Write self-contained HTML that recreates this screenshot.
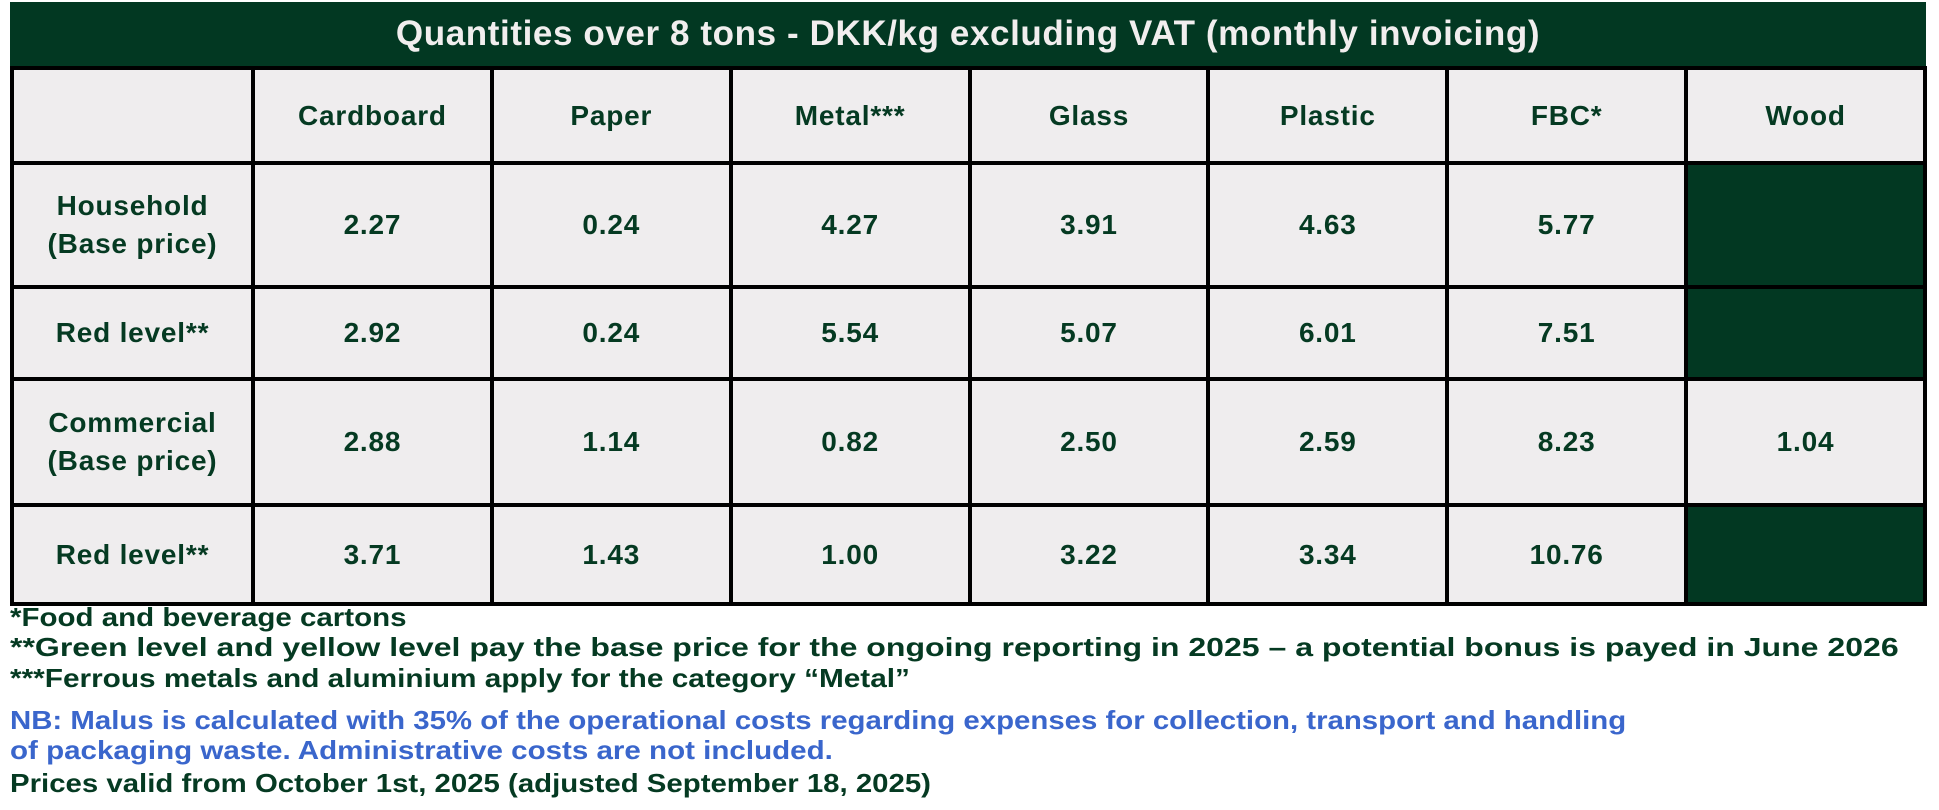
<!DOCTYPE html>
<html><head><meta charset="utf-8"><style>
body{margin:0;width:1939px;height:810px;background:#fff;position:relative;overflow:hidden;font-family:"Liberation Sans",sans-serif;}
.title{position:absolute;left:10px;top:2px;width:1916px;height:64px;background:#023822;color:#f1eeee;font-weight:bold;font-size:35px;letter-spacing:0.6px;text-align:center;line-height:64px;}
table{position:absolute;left:10px;top:66px;width:1917px;border-collapse:collapse;table-layout:fixed;}
td{border:4px solid #000;background:#efedee;color:#053a22;font-weight:bold;font-size:28px;letter-spacing:0.8px;text-align:center;line-height:1.35;padding:0;}
td.g{background:#023822;}
.f{position:absolute;left:10px;font-weight:bold;font-size:26px;color:#053a22;white-space:nowrap;transform-origin:0 0;}
.b{color:#3a66cc;}
</style></head><body>
<div class="title">Quantities over 8 tons - DKK/kg excluding VAT (monthly invoicing)</div>
<table>
<colgroup><col style="width:241px"><col><col><col><col><col><col><col></colgroup>
<tr style="height:95px"><td></td><td>Cardboard</td><td>Paper</td><td>Metal***</td><td>Glass</td><td>Plastic</td><td>FBC*</td><td>Wood</td></tr>
<tr style="height:124px"><td>Household<br>(Base price)</td><td>2.27</td><td>0.24</td><td>4.27</td><td>3.91</td><td>4.63</td><td>5.77</td><td class="g"></td></tr>
<tr style="height:92px"><td>Red level**</td><td>2.92</td><td>0.24</td><td>5.54</td><td>5.07</td><td>6.01</td><td>7.51</td><td class="g"></td></tr>
<tr style="height:126px"><td>Commercial<br>(Base price)</td><td>2.88</td><td>1.14</td><td>0.82</td><td>2.50</td><td>2.59</td><td>8.23</td><td>1.04</td></tr>
<tr style="height:99px"><td>Red level**</td><td>3.71</td><td>1.43</td><td>1.00</td><td>3.22</td><td>3.34</td><td>10.76</td><td class="g"></td></tr>
</table>
<div class="f" style="top:602px;transform:scaleX(1.134)">*Food and beverage cartons</div>
<div class="f" style="top:632px;transform:scaleX(1.232)">**Green level and yellow level pay the base price for the ongoing reporting in 2025 – a potential bonus is payed in June 2026</div>
<div class="f" style="top:663px;transform:scaleX(1.145)">***Ferrous metals and aluminium apply for the category “Metal”</div>
<div class="f b" style="top:705px;transform:scaleX(1.13)">NB: Malus is calculated with 35% of the operational costs regarding expenses for collection, transport and handling</div>
<div class="f b" style="top:735px;transform:scaleX(1.136)">of packaging waste. Administrative costs are not included.</div>
<div class="f" style="top:768px;transform:scaleX(1.13)">Prices valid from October 1st, 2025 (adjusted September 18, 2025)</div>
</body></html>
